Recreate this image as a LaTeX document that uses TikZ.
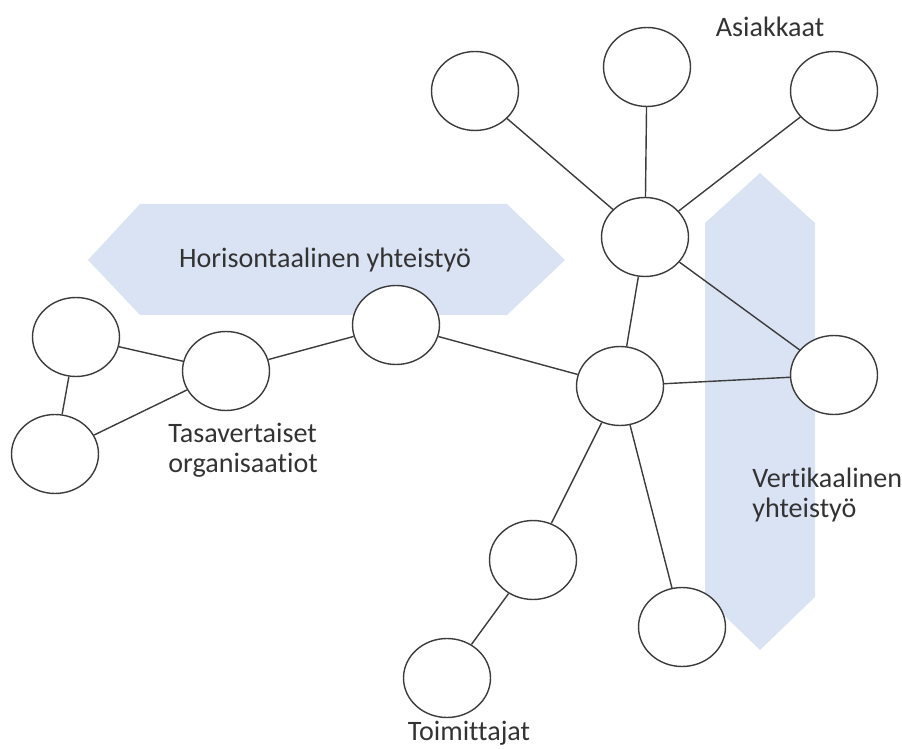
\documentclass[tikz,border=0pt]{standalone}
\usepackage{fontspec}
\setmainfont{Carlito}[Ligatures=NoCommon]
\usetikzlibrary{shapes.geometric}

\definecolor{arrowblue}{HTML}{DAE3F3}
\definecolor{linegray}{HTML}{3C3C3C}
\definecolor{textgray}{HTML}{333333}

\begin{document}
\begin{tikzpicture}[x=0.02cm, y=-0.02cm,
	org node/.style={ellipse, draw=linegray, fill=white, line width=0.8pt, inner sep=0pt, minimum width=1.74cm, minimum height=1.58cm},
	label text/.style={text=textgray, font=\fontsize{16}{17}\selectfont, inner sep=0pt},
	link/.style={draw=linegray, line width=0.8pt}]
	\useasboundingbox (0,0) rectangle (902,749);
	
	%broad arrows behind the network
	%horizontal collaboration
	\fill[arrowblue] (88,260) -- (140,204) -- (507,204) -- (565,260) -- (507,315) -- (140,315) -- cycle;
	\node[label text, anchor=base] (horlabel) at (325,268) {Horisontaalinen yhteistyö};
	%vertical collaboration
	\fill[arrowblue] (760,173) -- (815,223) -- (815,597) -- (760,650) -- (705,597) -- (705,223) -- cycle;
	\node[label text, anchor=base west, align=left] (verlabel) at (752,517) {Vertikaalinen\\yhteistyö};
	
	%customers
	\node[org node] (cust1) at (475,91) {};
	\node[org node] (cust2) at (647,67) {};
	\node[org node] (cust3) at (834,91) {};
	\node[label text, anchor=base] (custlabel) at (770,37) {Asiakkaat};
	
	%focal company and its neighbours
	\node[org node] (hub) at (645,237) {};
	\node[org node] (focal) at (620,386) {};
	\node[org node] (right) at (834,375) {};
	\node[org node] (peer) at (396,325) {};
	
	%peer organisations
	\node[org node] (peer1) at (226,371) {};
	\node[org node] (peer2) at (76,337) {};
	\node[org node] (peer3) at (55,454) {};
	\node[label text, anchor=base west, align=left] (peerlabel) at (168,472) {Tasavertaiset\\organisaatiot};
	
	%suppliers
	\node[org node] (sup1) at (533,560) {};
	\node[org node] (sup2) at (682,627) {};
	\node[org node] (sup3) at (447,678) {};
	\node[label text, anchor=base] (suplabel) at (469,740) {Toimittajat};
	
	%links
	\draw[link] (cust1) -- (hub);
	\draw[link] (cust2) -- (hub);
	\draw[link] (cust3) -- (hub);
	\draw[link] (hub) -- (focal);
	\draw[link] (hub) -- (right);
	\draw[link] (focal) -- (right);
	\draw[link] (focal) -- (peer);
	\draw[link] (peer) -- (peer1);
	\draw[link] (peer1) -- (peer2);
	\draw[link] (peer1) -- (peer3);
	\draw[link] (peer2) -- (peer3);
	\draw[link] (focal) -- (sup1);
	\draw[link] (focal) -- (sup2);
	\draw[link] (sup1) -- (sup3);

\end{tikzpicture}
\end{document}
